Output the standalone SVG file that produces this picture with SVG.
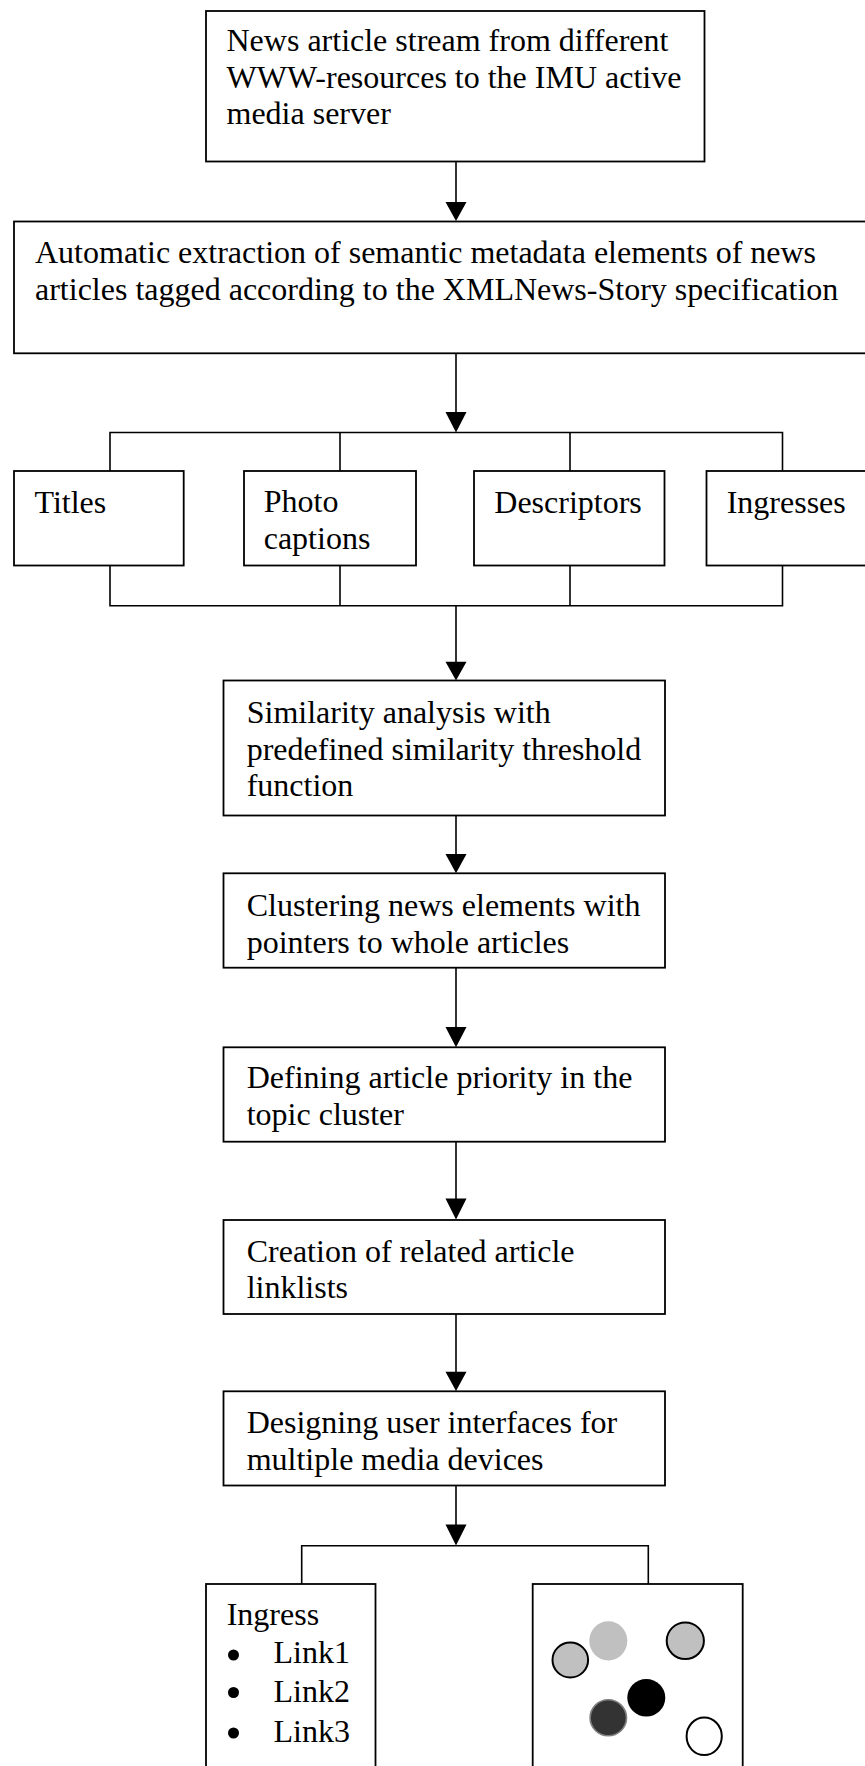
<svg xmlns="http://www.w3.org/2000/svg" width="865" height="1766" viewBox="0 0 865 1766">
  <defs>
    <style>
      .box { fill: #ffffff; stroke: #000000; stroke-width: 1.8; }
      .ln { fill: none; stroke: #000000; stroke-width: 1.6; }
      .head { fill: #000000; stroke: none; }
      .t { font-family: "Liberation Serif", "Times New Roman", serif; font-size: 32px; fill: #000000; }
    </style>
  </defs>
  <rect x="0" y="0" width="865" height="1766" fill="#ffffff"/>

  <g id="connectors">
    <line class="ln" x1="456" y1="161.5" x2="456" y2="204"/>
    <polygon class="head" points="445.5,202 466.5,202 456,221"/>
    <line class="ln" x1="456" y1="353.3" x2="456" y2="414"/>
    <polygon class="head" points="445.5,412 466.5,412 456,432.5"/>
    <polyline class="ln" points="110,471 110,432.5 782.5,432.5 782.5,471"/>
    <line class="ln" x1="340" y1="432.5" x2="340" y2="471"/>
    <line class="ln" x1="570" y1="432.5" x2="570" y2="471"/>
    <polyline class="ln" points="110,565.5 110,605.7 782.5,605.7 782.5,565.5"/>
    <line class="ln" x1="340" y1="565.5" x2="340" y2="605.7"/>
    <line class="ln" x1="570" y1="565.5" x2="570" y2="605.7"/>
    <line class="ln" x1="456" y1="605.7" x2="456" y2="664"/>
    <polygon class="head" points="445.5,661.7 466.5,661.7 456,680.5"/>
    <line class="ln" x1="456" y1="815.5" x2="456" y2="856"/>
    <polygon class="head" points="445.5,854 466.5,854 456,873.3"/>
    <line class="ln" x1="456" y1="967.7" x2="456" y2="1029"/>
    <polygon class="head" points="445.5,1027 466.5,1027 456,1047.3"/>
    <line class="ln" x1="456" y1="1141.7" x2="456" y2="1200"/>
    <polygon class="head" points="445.5,1198.5 466.5,1198.5 456,1219.5"/>
    <line class="ln" x1="456" y1="1314" x2="456" y2="1373"/>
    <polygon class="head" points="445.5,1371.7 466.5,1371.7 456,1391"/>
    <line class="ln" x1="456" y1="1485.5" x2="456" y2="1526"/>
    <polygon class="head" points="445.5,1524.5 466.5,1524.5 456,1545.5"/>
    <polyline class="ln" points="301.7,1584 301.7,1545.7 648.3,1545.7 648.3,1584"/>
  </g>

  <g id="n-stream">
    <rect class="box" x="206" y="11" width="498.5" height="150.5"/>
    <text class="t"><tspan x="226.5" y="51">News article stream from different</tspan><tspan x="226.5" y="87.5">WWW-resources to the IMU active</tspan><tspan x="226.5" y="123.5">media server</tspan></text>
  </g>

  <g id="n-extraction">
    <rect class="box" x="14" y="221.5" width="870" height="131.8"/>
    <text class="t"><tspan x="35" y="263.3">Automatic extraction of semantic metadata elements of news</tspan><tspan x="35" y="300">articles tagged according to the XMLNews-Story specification</tspan></text>
  </g>

  <g id="n-titles">
    <rect class="box" x="14" y="471" width="169.7" height="94.5"/>
    <text class="t" x="34.5" y="512.5">Titles</text>
  </g>

  <g id="n-photo">
    <rect class="box" x="244" y="471" width="172" height="94.5"/>
    <text class="t"><tspan x="263.7" y="512">Photo</tspan><tspan x="263.7" y="548.5">captions</tspan></text>
  </g>

  <g id="n-descriptors">
    <rect class="box" x="474" y="471" width="190.5" height="94.5"/>
    <text class="t" x="494.3" y="512.5">Descriptors</text>
  </g>

  <g id="n-ingresses">
    <rect class="box" x="706.5" y="471" width="180" height="94.5"/>
    <text class="t" x="726.7" y="512.5">Ingresses</text>
  </g>

  <g id="n-similarity">
    <rect class="box" x="223.5" y="680.5" width="441.5" height="135"/>
    <text class="t"><tspan x="246.7" y="723">Similarity analysis with</tspan><tspan x="246.7" y="759.5">predefined similarity threshold</tspan><tspan x="246.7" y="796">function</tspan></text>
  </g>

  <g id="n-clustering">
    <rect class="box" x="223.5" y="873.3" width="441.5" height="94.4"/>
    <text class="t"><tspan x="246.7" y="916">Clustering news elements with</tspan><tspan x="246.7" y="952.5">pointers to whole articles</tspan></text>
  </g>

  <g id="n-priority">
    <rect class="box" x="223.5" y="1047.3" width="441.5" height="94.4"/>
    <text class="t"><tspan x="246.7" y="1088.3">Defining article priority in the</tspan><tspan x="246.7" y="1125">topic cluster</tspan></text>
  </g>

  <g id="n-linklists">
    <rect class="box" x="223.5" y="1220" width="441.5" height="94"/>
    <text class="t"><tspan x="246.7" y="1261.7">Creation of related article</tspan><tspan x="246.7" y="1297.5">linklists</tspan></text>
  </g>

  <g id="n-ui">
    <rect class="box" x="223.5" y="1391.3" width="441.5" height="94.2"/>
    <text class="t"><tspan x="246.7" y="1433.3">Designing user interfaces for</tspan><tspan x="246.7" y="1469.5">multiple media devices</tspan></text>
  </g>

  <g id="n-ingress-list">
    <rect class="box" x="206" y="1584" width="169.5" height="200"/>
    <text class="t" x="226.7" y="1625">Ingress</text>
    <circle cx="233.5" cy="1655" r="5.5" fill="#000000"/>
    <circle cx="233.5" cy="1692.5" r="5.5" fill="#000000"/>
    <circle cx="233.5" cy="1733" r="5.5" fill="#000000"/>
    <text class="t" x="273.5" y="1663.3">Link1</text>
    <text class="t" x="273.5" y="1702">Link2</text>
    <text class="t" x="273.5" y="1741.7">Link3</text>
  </g>

  <g id="n-visual">
    <rect class="box" x="532.7" y="1584" width="210" height="200"/>
    <ellipse cx="570.3" cy="1660" rx="17.8" ry="17.5" fill="#c0c0c0" stroke="#000000" stroke-width="2"/>
    <ellipse cx="608.3" cy="1640.8" rx="19" ry="19.6" fill="#c0c0c0"/>
    <ellipse cx="685.3" cy="1640.8" rx="18.6" ry="18.3" fill="#c0c0c0" stroke="#000000" stroke-width="2"/>
    <ellipse cx="646.3" cy="1697.8" rx="19" ry="18.8" fill="#000000"/>
    <ellipse cx="608.3" cy="1717.8" rx="18.2" ry="18" fill="#333333" stroke="#808080" stroke-width="1.6"/>
    <ellipse cx="704.2" cy="1736.3" rx="17.6" ry="18.8" fill="#ffffff" stroke="#000000" stroke-width="2"/>
  </g>
</svg>
